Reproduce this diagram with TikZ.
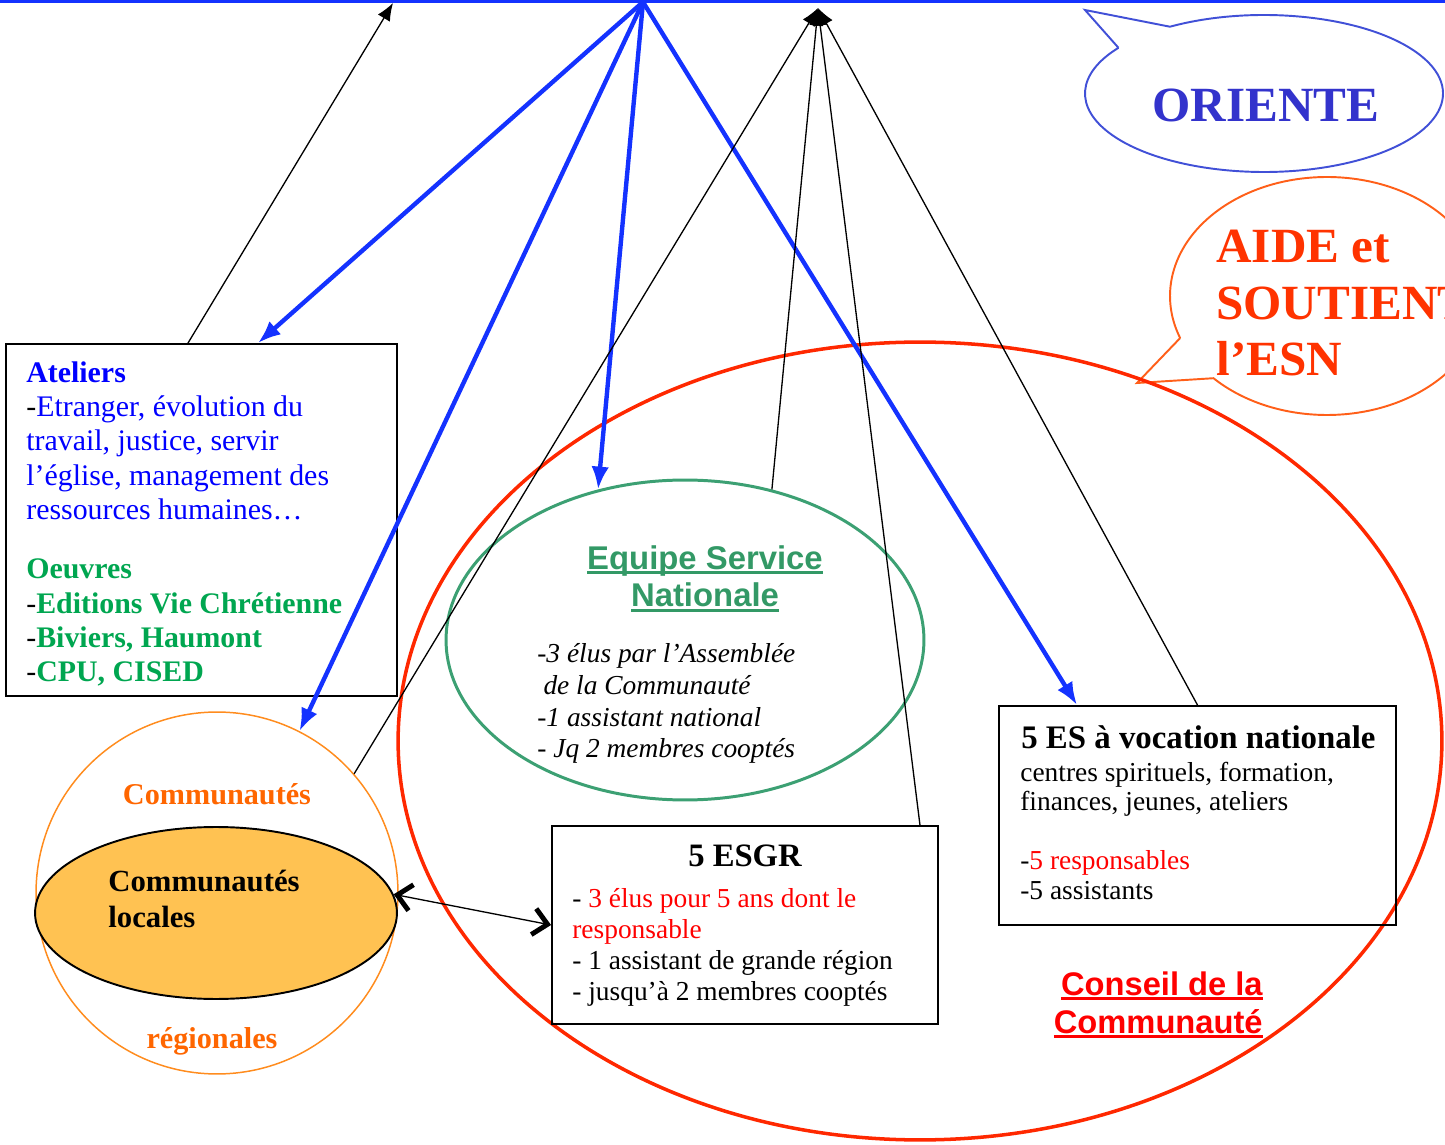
\documentclass[tikz,border=0pt]{standalone}
\usepackage{fontspec}
\setmainfont{Liberation Serif}
\setsansfont{Liberation Sans}
\usetikzlibrary{arrows.meta,shapes.geometric,calc}

\definecolor{linkblue}{RGB}{20,50,255}
\definecolor{orientline}{RGB}{65,80,215}
\definecolor{orienttext}{RGB}{51,51,204}
\definecolor{aideline}{RGB}{255,95,25}
\definecolor{aidetext}{RGB}{255,51,0}
\definecolor{councilred}{RGB}{255,40,0}
\definecolor{redtext}{RGB}{255,0,0}
\definecolor{esngreen}{RGB}{60,160,115}
\definecolor{esntext}{RGB}{51,153,102}
\definecolor{atelblue}{RGB}{0,0,255}
\definecolor{oeuvgreen}{RGB}{0,166,80}
\definecolor{ringorange}{RGB}{255,140,30}
\definecolor{ringtext}{RGB}{255,102,0}
\definecolor{localfill}{RGB}{255,194,82}

\newcommand{\ulbar}[1]{\setbox0\hbox{#1}\rlap{\rule[-2.8pt]{\wd0}{1.6pt}}\box0}

\tikzset{
  pipe/.style={draw=linkblue, line width=2.5pt, -{Latex[length=13pt,width=10pt]}},
  tie/.style={line width=0.75pt, -{Latex[length=10pt,width=8pt]}},
  barb/.style={{Straight Barb[length=8pt,width=15pt,line width=2.8pt]}-{Straight Barb[length=8pt,width=15pt,line width=2.8pt]}, line width=0.75pt},
  frame/.style={draw, line width=1.1pt, inner sep=0pt},
  txt/.style={inner sep=0pt, align=left, anchor=base west}
}

\begin{document}
\begin{tikzpicture}[x=0.02cm, y=-0.02cm]
\useasboundingbox (0,0) rectangle (1445,1145);
\clip (0,0) rectangle (1445,1145);

% top line and hubs
\draw[linkblue, line width=1.7pt] (0,1.5) -- (1445,1.5);
\coordinate (hubblue) at (643,2);
\coordinate (hubblack) at (818,8);
\coordinate (tipleft) at (393,3);

% speech bubbles
\coordinate (oc) at (1264,93.5);
\draw[orientline, line width=1.1pt] ($(oc)+(215.6:179 and 78.5)$) -- (1085,10)
  -- ($(oc)+(238.3:179 and 78.5)$) arc[start angle=238.3, end angle=575.6, x radius=179, y radius=78.5];
\node[font=\fontsize{28}{32}\selectfont\bfseries, text=orienttext, inner sep=0pt, anchor=base] (orient) at (1266,122) {ORIENTE};

\coordinate (ac) at (1327,296);
\draw[aideline, line width=1.1pt] ($(ac)+(159.3:157 and 119)$) -- (1137,383)
  -- ($(ac)+(136.3:157 and 119)$) arc[start angle=136.3, end angle=-200.7, x radius=157, y radius=119];
\node[txt, font=\fontsize{28}{32.3}\selectfont\bfseries, text=aidetext] (aide) at (1216,376) {AIDE et\\SOUTIENT\\l’ESN};

% big shapes
\node[ellipse, draw=councilred, line width=2pt, inner sep=0pt, minimum width=20.88cm, minimum height=15.96cm] (conseil) at (920,741) {};
\node[ellipse, draw=esngreen, line width=1.7pt, inner sep=0pt, minimum width=9.56cm, minimum height=6.4cm] (esn) at (685,640) {};
\node[circle, draw=ringorange, line width=0.85pt, inner sep=0pt, minimum size=7.24cm] (regional) at (217,893) {};
\node[ellipse, draw, fill=localfill, line width=1.1pt, inner sep=0pt, minimum width=7.24cm, minimum height=3.44cm] (locales) at (216,913) {};
\node[frame, minimum width=7.82cm, minimum height=7.04cm] (ateliers) at (201.5,520) {};
\node[frame, minimum width=7.72cm, minimum height=3.96cm] (esgr) at (745,925) {};
\node[frame, minimum width=7.94cm, minimum height=4.38cm] (esnat) at (1197.5,815.5) {};

% texts (multi-line nodes sit on their last baseline)
\node[txt, font=\fontsize{17}{19.6}\selectfont, text=atelblue] (ateltext) at (26,682) {%
  {\bfseries Ateliers}\\
  \textcolor{black}{-}Etranger, évolution du\\
  travail, justice, servir\\
  l’église, management des\\
  ressources humaines…\\[13.9pt]
  {\color{oeuvgreen}\bfseries Oeuvres}\\
  \textcolor{black}{-}{\color{oeuvgreen}\bfseries Editions Vie Chrétienne}\\
  \textcolor{black}{-}{\color{oeuvgreen}\bfseries Biviers, Haumont}\\
  \textcolor{black}{-}{\color{oeuvgreen}\bfseries CPU, CISED}};

\node[inner sep=0pt, align=center, anchor=base, font=\fontsize{18.7}{21.5}\selectfont\sffamily\bfseries, text=esntext] (esntitle) at (705,607) {\ulbar{Equipe Service}\\\ulbar{Nationale}};
\node[txt, font=\fontsize{15.6}{18.1}\selectfont\itshape] (esntext) at (537,758) {%
  -3 élus par l’Assemblée\\
  \hspace*{3.5pt}de la Communauté\\
  -1 assistant national\\
  - Jq 2 membres cooptés};

\node[inner sep=0pt, anchor=base, font=\fontsize{18.6}{21}\selectfont\bfseries] (esgrtitle) at (745,867) {5 ESGR};
\node[txt, font=\fontsize{15.6}{17.6}\selectfont] (esgrtext) at (572,1000) {%
  - \textcolor{redtext}{3 élus pour 5 ans dont le}\\
  \textcolor{redtext}{responsable}\\
  - 1 assistant de grande région\\
  - jusqu’à 2 membres cooptés};

\node[txt, font=\fontsize{18.7}{21}\selectfont\bfseries] (esnattitle) at (1021,748) {5 ES à vocation nationale};
\node[txt, font=\fontsize{15.6}{16.7}\selectfont] (esnattext) at (1020,899) {%
  centres spirituels, formation,\\
  finances, jeunes, ateliers\\[16.7pt]
  -\textcolor{redtext}{5 responsables}\\
  -5 assistants};

\node[inner sep=0pt, align=right, anchor=base east, font=\fontsize{18.6}{21.5}\selectfont\sffamily\bfseries, text=redtext] (conseiltext) at (1263,1033) {\ulbar{Conseil de la}\\\ulbar{Communauté}};

\node[inner sep=0pt, anchor=base, font=\fontsize{17.2}{20}\selectfont\bfseries, text=ringtext] (regtop) at (217,805) {Communautés};
\node[inner sep=0pt, anchor=base, font=\fontsize{17.2}{20}\selectfont\bfseries, text=ringtext] (regbottom) at (212,1048) {régionales};
\node[txt, font=\fontsize{17.5}{20.4}\selectfont\bfseries] (localtext) at (108,927) {Communautés\\locales};

% connectors
\draw[pipe] (hubblue) -- ([xshift=1.13cm]ateliers.north);
\draw[pipe] (hubblue) -- (regional.63);
\draw[pipe] (hubblue) -- (esn.120);
\draw[pipe] (hubblue) -- ([xshift=-2.41cm]esnat.north);

\draw[tie] ([xshift=-0.27cm]ateliers.north) -- (tipleft);
\draw[tie] (regional.41) -- (hubblack);
\draw[tie] (esn.60) -- (hubblack);
\draw[tie] ([xshift=3.5cm]esgr.north) -- (hubblack);
\draw[tie] (esnat.north) -- (hubblack);

\draw[barb] (locales.6) -- (esgr.west);
\end{tikzpicture}
\end{document}
